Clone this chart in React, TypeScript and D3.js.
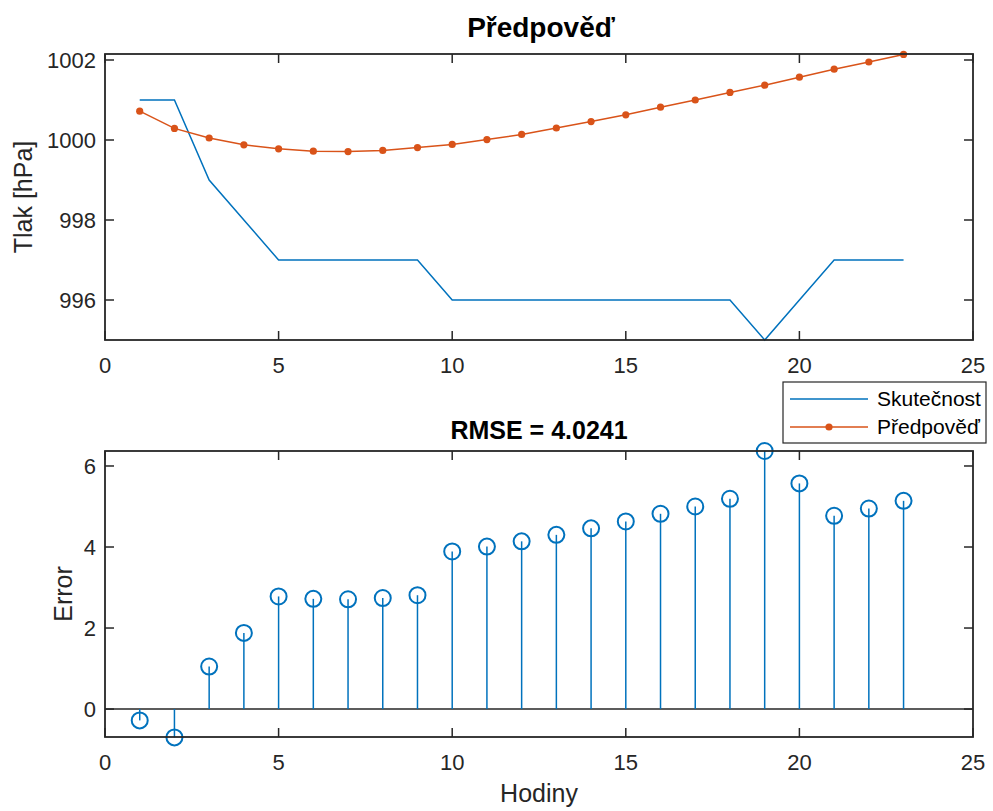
import React from "react";
import * as d3 from "d3";

const hours = [1,2,3,4,5,6,7,8,9,10,11,12,13,14,15,16,17,18,19,20,21,22,23];
const actual = [1001,1001,999,998,997,997,997,997,997,996,996,996,996,996,996,996,996,996,995,996,997,997,997];
const forecast = [1000.72,1000.29,1000.05,999.88,999.78,999.72,999.71,999.74,999.81,999.89,1000.01,1000.14,1000.3,1000.46,1000.63,1000.82,1001.0,1001.19,1001.37,1001.57,1001.77,1001.95,1002.14];
const errors = [-0.28,-0.70,1.05,1.88,2.78,2.72,2.71,2.74,2.81,3.89,4.01,4.14,4.30,4.46,4.63,4.82,5.00,5.19,6.37,5.57,4.77,4.95,5.14];
const xTicks = [0,5,10,15,20,25];
const yTopTicks = [996,998,1000,1002];
const yBotTicks = [0,2,4,6];
const legendLabels = ["Skutečnost","Předpověď"];
const topTitle = "Předpověď";
const botTitle = "RMSE = 4.0241";
const yTopLabel = "Tlak [hPa]";
const yBotLabel = "Error";
const xLabel = "Hodiny";

const BLUE = "#0072BD";
const ORANGE = "#D95319";
const AX = "#262626";
const FONT = "'Liberation Sans', Arial, Helvetica, sans-serif";

const L = 105, R = 973;
const topY0 = 54, topY1 = 340;
const botY0 = 451, botY1 = 737;
const TICK = 9;

function Axes({ x, y, y0, y1, yTicks }: any) {
  return (
    <g>
      <rect x={L} y={y0} width={R - L} height={y1 - y0} fill="white" stroke="none" />
      {xTicks.map((t) => (
        <g key={"xt" + t}>
          <line x1={x(t)} x2={x(t)} y1={y1} y2={y1 - TICK} stroke={AX} strokeWidth={1.5} />
          <line x1={x(t)} x2={x(t)} y1={y0} y2={y0 + TICK} stroke={AX} strokeWidth={1.5} />
          <text x={x(t)} y={y1 + 33} textAnchor="middle" fontSize={22} fontFamily={FONT} fill={AX}>{t}</text>
        </g>
      ))}
      {yTicks.map((t: number) => (
        <g key={"yt" + t}>
          <line x1={L} x2={L + TICK} y1={y(t)} y2={y(t)} stroke={AX} strokeWidth={1.5} />
          <line x1={R} x2={R - TICK} y1={y(t)} y2={y(t)} stroke={AX} strokeWidth={1.5} />
          <text x={L - 9} y={y(t) + 8} textAnchor="end" fontSize={22} fontFamily={FONT} fill={AX}>{t}</text>
        </g>
      ))}
    </g>
  );
}

function Box({ y0, y1 }: any) {
  return <rect x={L} y={y0} width={R - L} height={y1 - y0} fill="none" stroke={AX} strokeWidth={1.8} />;
}

export default function App() {
  const x = d3.scaleLinear().domain([0, 25]).range([L, R]);
  const yTop = d3.scaleLinear().domain([995, 1002.15]).range([topY1, topY0]);
  const yBot = d3.scaleLinear().domain([-0.69, 6.37]).range([botY1, botY0]);

  const lineA = d3.line<number>().x((_, i) => x(hours[i])).y((d) => yTop(d));
  const lineF = d3.line<number>().x((_, i) => x(hours[i])).y((d) => yTop(d));

  const topMid = (topY0 + topY1) / 2;
  const botMid = (botY0 + botY1) / 2;
  const xMid = (L + R) / 2;

  return (
    <svg width={993} height={811} style={{ position: "fixed", left: 0, top: 0, background: "white" }}>
      <rect x={0} y={0} width={993} height={811} fill="white" />
      {/* Top axes */}
      <Axes x={x} y={yTop} y0={topY0} y1={topY1} yTicks={yTopTicks} />
      <path d={lineA(actual) || ""} fill="none" stroke={BLUE} strokeWidth={1.5} />
      <path d={lineF(forecast) || ""} fill="none" stroke={ORANGE} strokeWidth={1.5} />
      {forecast.map((v, i) => (
        <circle key={"f" + i} cx={x(hours[i])} cy={yTop(v)} r={3.6} fill={ORANGE} />
      ))}
      <Box y0={topY0} y1={topY1} />
      <text x={xMid + 2} y={37} textAnchor="middle" fontSize={28} fontWeight="bold" fontFamily={FONT} fill="#000">{topTitle}</text>
      <text transform={`translate(32,${topMid}) rotate(-90)`} textAnchor="middle" fontSize={25} fontFamily={FONT} fill={AX}>{yTopLabel}</text>

      {/* Bottom axes */}
      <Axes x={x} y={yBot} y0={botY0} y1={botY1} yTicks={yBotTicks} />
      <line x1={L} x2={R} y1={yBot(0)} y2={yBot(0)} stroke={AX} strokeWidth={1.5} />
      {errors.map((v, i) => (
        <line key={"s" + i} x1={x(hours[i])} x2={x(hours[i])} y1={yBot(0)} y2={yBot(v)} stroke={BLUE} strokeWidth={1.5} />
      ))}
      {errors.map((v, i) => (
        <circle key={"c" + i} cx={x(hours[i])} cy={yBot(v)} r={8} fill="none" stroke={BLUE} strokeWidth={2} />
      ))}
      <Box y0={botY0} y1={botY1} />
      <text x={xMid} y={439} textAnchor="middle" fontSize={25} fontWeight="bold" fontFamily={FONT} fill="#000">{botTitle}</text>
      <text transform={`translate(72,${botMid}) rotate(-90)`} textAnchor="middle" fontSize={25} fontFamily={FONT} fill={AX}>{yBotLabel}</text>
      <text x={xMid} y={802} textAnchor="middle" fontSize={25} fontFamily={FONT} fill={AX}>{xLabel}</text>

      {/* Legend */}
      <g>
        <rect x={783} y={382} width={203} height={61} fill="white" stroke={AX} strokeWidth={1.2} />
        <line x1={790} x2={868} y1={399} y2={399} stroke={BLUE} strokeWidth={1.5} />
        <text x={877} y={406} fontSize={21} fontFamily={FONT} fill="#000">{legendLabels[0]}</text>
        <line x1={790} x2={868} y1={427} y2={427} stroke={ORANGE} strokeWidth={1.5} />
        <circle cx={829} cy={427} r={3.6} fill={ORANGE} />
        <text x={877} y={434} fontSize={21} fontFamily={FONT} fill="#000">{legendLabels[1]}</text>
      </g>
    </svg>
  );
}
